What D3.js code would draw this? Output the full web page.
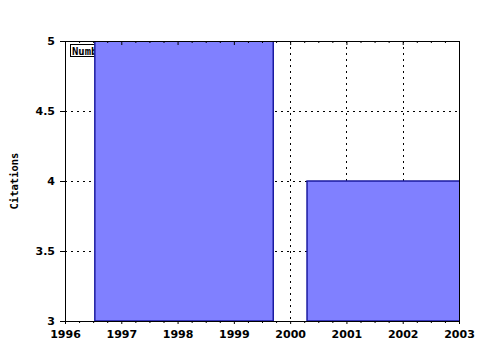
<!DOCTYPE html>
<html>
<head>
<meta charset="utf-8">
<script src="https://cdn.jsdelivr.net/npm/d3@7"></script>
<style>
  body { margin: 0; background: #fff; }
  svg { display: block; }
</style>
</head>
<body>
<div id="chart"></div>
<script>
// chart data
const barStart = [1996.53, 2000.3];
const barEnd = [1999.7, 2003.5];
const barValues = [5, 4];
const xTicks = [1996, 1997, 1998, 1999, 2000, 2001, 2002, 2003];
const yTicks = [3, 3.5, 4, 4.5, 5];
const legendLabel = 'Number of citations';
const yLabel = 'Citations';

const W = 480, H = 350;
const margin = { top: 41, right: 21, bottom: 29, left: 65 };
const w = W - margin.left - margin.right;
const h = H - margin.top - margin.bottom;

const svg = d3.select('#chart').append('svg')
  .attr('width', W).attr('height', H)
  .style('background', '#fff');

const g = svg.append('g').attr('transform', `translate(${margin.left},${margin.top})`);

const x = d3.scaleLinear().domain([1996, 2003]).range([0, w]);
const y = d3.scaleLinear().domain([3, 5]).range([h, 0]);

const tickFont = 'bold 11px "DejaVu Sans", Verdana, sans-serif';

svg.append('defs').append('clipPath').attr('id', 'plotclip')
  .append('rect').attr('width', w).attr('height', h);

// grid lines
const grid = g.append('g').attr('stroke', '#000').attr('stroke-dasharray', '2,4').attr('shape-rendering', 'crispEdges');
xTicks.slice(1, -1).forEach(t => {
  grid.append('line').attr('x1', Math.round(x(t)) + 0.5).attr('x2', Math.round(x(t)) + 0.5)
    .attr('y1', 0).attr('y2', h);
});
yTicks.slice(1, -1).forEach(t => {
  grid.append('line').attr('y1', Math.round(y(t)) + 0.5).attr('y2', Math.round(y(t)) + 0.5)
    .attr('x1', 0).attr('x2', w);
});

// legend (drawn under the bars, so it gets covered)
const leg = g.append('g').attr('transform', 'translate(5.5,3.5)');
leg.append('rect').attr('width', 80).attr('height', 12)
  .attr('fill', '#fff').attr('stroke', '#000');
leg.append('text').attr('x', 1.5).attr('y', 10)
  .style('font', 'bold 10.5px "DejaVu Sans Mono", monospace')
  .attr('fill', '#000')
  .text(legendLabel);

// bars
g.append('g').attr('clip-path', 'url(#plotclip)')
  .selectAll('rect').data(barValues).enter().append('rect')
  .attr('x', (d, i) => x(barStart[i]))
  .attr('width', (d, i) => x(barEnd[i]) - x(barStart[i]))
  .attr('y', d => y(d))
  .attr('height', d => h - y(d))
  .attr('fill', '#8080ff')
  .attr('stroke', '#1a1aa0')
  .attr('stroke-width', 1.5);

// frame + axes
const xMinor = d3.range(1996, 2003.01, 0.25);
const xMinorNoMajor = xMinor.filter(v => Math.abs(v - Math.round(v)) > 0.01);

const xAxis = g.append('g').attr('transform', `translate(0,${h})`)
  .call(d3.axisBottom(x).tickValues(xTicks).tickFormat(d3.format('d')).tickSize(3).tickPadding(6));
xAxis.selectAll('text').style('font', tickFont).attr('fill', '#000');
g.append('g').attr('transform', `translate(0,${h})`)
  .call(d3.axisBottom(x).tickValues(xMinorNoMajor).tickFormat('').tickSize(2))
  .select('.domain').remove();

const yAxis = g.append('g')
  .call(d3.axisLeft(y).tickValues(yTicks).tickFormat(d3.format('')).tickSize(5).tickPadding(5));
yAxis.selectAll('text').style('font', tickFont).attr('fill', '#000');

// top border with inward ticks
g.append('g')
  .call(d3.axisTop(x).tickValues(xTicks).tickFormat('').tickSize(-4));
g.append('g')
  .call(d3.axisTop(x).tickValues(xMinorNoMajor).tickFormat('').tickSize(-2))
  .select('.domain').remove();

// right border
g.append('line').attr('x1', w + 0.5).attr('x2', w + 0.5).attr('y1', 0).attr('y2', h)
  .attr('stroke', '#000');

g.selectAll('.domain').attr('stroke', '#000');
g.selectAll('.tick line').attr('stroke', '#000');

// y label
svg.append('text')
  .attr('transform', `translate(17.5,${margin.top + h / 2}) rotate(-90)`)
  .attr('text-anchor', 'middle')
  .style('font', 'bold 10.5px "DejaVu Sans Mono", monospace')
  .attr('fill', '#000')
  .text(yLabel);
</script>
</body>
</html>
